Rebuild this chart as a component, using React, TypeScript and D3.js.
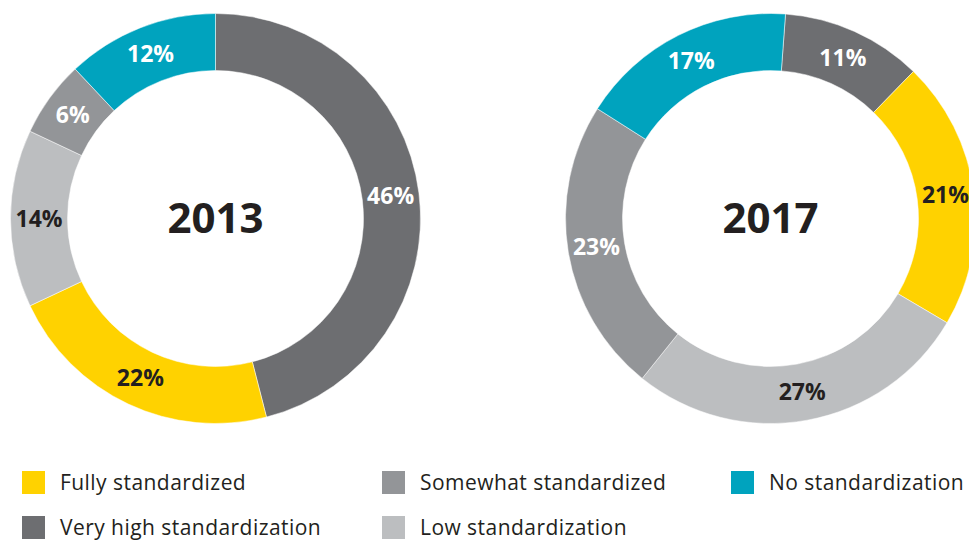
import React from "react";
import * as d3 from "d3";

// slice order (clockwise from the start angle)
const categories = [
  "Very high standardization",
  "Fully standardized",
  "Low standardization",
  "Somewhat standardized",
  "No standardization",
];
const values2013 = [46, 22, 14, 6, 12];
const values2017 = [11, 21, 27, 23, 17];
const years = ["2013", "2017"];

// legend layout order
const legendRow1 = ["Fully standardized", "Somewhat standardized", "No standardization"];
const legendRow2 = ["Very high standardization", "Low standardization"];

const colors: Record<string, string> = {
  "Very high standardization": "#6d6e71",
  "Fully standardized": "#ffd200",
  "Low standardization": "#bcbec0",
  "Somewhat standardized": "#939598",
  "No standardization": "#00a3be",
};
const darkLabel = new Set(["Fully standardized", "Low standardization"]);

const W = 969;
const H = 540;
const FONT = "'Open Sans', 'Noto Sans', sans-serif";
const INK = "#231f20";

const outerR = 205;
const innerR = 148;

const Donut = ({ cx, cy, values, year, startDeg }) => {
  const start = (startDeg * Math.PI) / 180;
  const pie = d3
    .pie<number>()
    .sort(null)
    .value((d) => d)
    .startAngle(start)
    .endAngle(start + 2 * Math.PI);
  const arc = d3.arc<d3.PieArcDatum<number>>().innerRadius(innerR).outerRadius(outerR);
  const labelArc = d3
    .arc<d3.PieArcDatum<number>>()
    .innerRadius((innerR + outerR) / 2)
    .outerRadius((innerR + outerR) / 2);
  const slices = pie(values);

  return (
    <g transform={`translate(${cx},${cy})`}>
      {slices.map((s, i) => (
        <path key={i} d={arc(s) || ""} fill={colors[categories[i]]} stroke="#fff" strokeWidth={0.5} />
      ))}
      {slices.map((s, i) => {
        const [x, y] = labelArc.centroid(s);
        return (
          <text
            key={"l" + i}
            x={x}
            y={y - 1}
            textAnchor="middle"
            dominantBaseline="central"
            fontFamily={FONT}
            fontWeight="bold"
            fontSize={23}
            fill={darkLabel.has(categories[i]) ? INK : "#fff"}
          >
            {values[i]}%
          </text>
        );
      })}
      <text
        x={0}
        y={-2}
        textAnchor="middle"
        dominantBaseline="central"
        fontFamily={FONT}
        fontWeight="bold"
        fontSize={42}
        fill={INK}
      >
        {year}
      </text>
    </g>
  );
};

const LegendItem = ({ x, y, name }) => (
  <g transform={`translate(${x},${y})`}>
    <rect x={0} y={0} width={23} height={23} fill={colors[name]} />
    <text x={38} y={18.5} fontFamily={FONT} fontSize={21} letterSpacing={0.45} fill={INK}>
      {name}
    </text>
  </g>
);

export default function App() {
  const colX = [22, 382, 731];
  return (
    <svg
      width={W}
      height={H}
      style={{ position: "absolute", left: 0, top: 0, background: "#fff" }}
    >
      <Donut cx={215.5} cy={218.5} values={values2013} year={years[0]} startDeg={0} />
      <Donut cx={770.5} cy={218.5} values={values2017} year={years[1]} startDeg={4.2} />
      {legendRow1.map((n, i) => (
        <LegendItem key={n} x={colX[i]} y={471} name={n} />
      ))}
      {legendRow2.map((n, i) => (
        <LegendItem key={n} x={colX[i]} y={516} name={n} />
      ))}
    </svg>
  );
}
